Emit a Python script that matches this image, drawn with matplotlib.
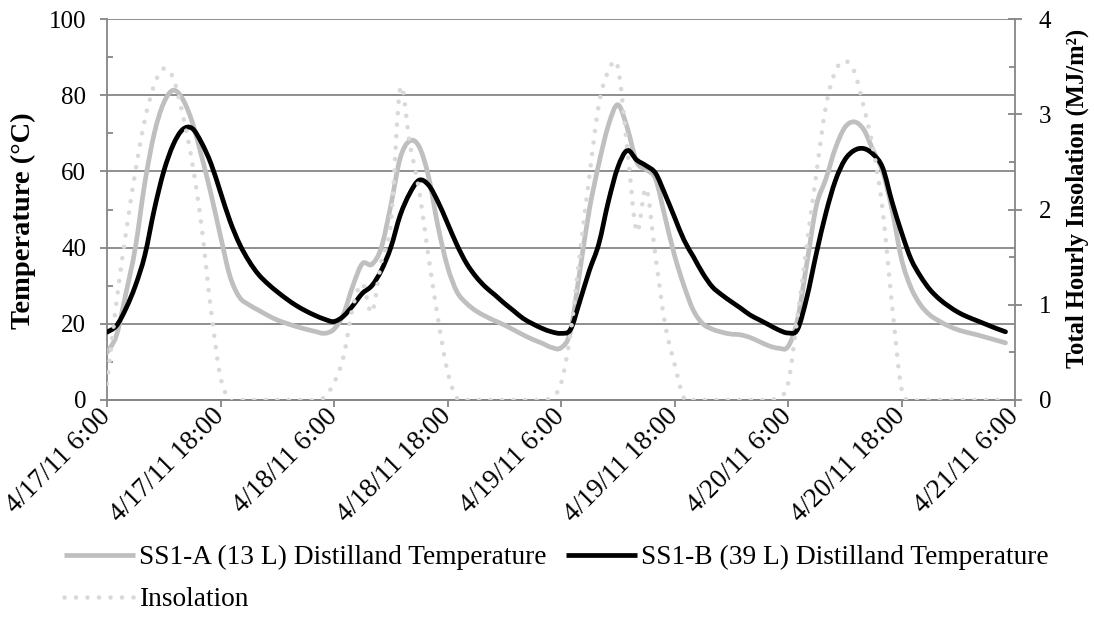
import matplotlib
matplotlib.use("Agg")
import matplotlib.pyplot as plt
import matplotlib.dates as mdates
import matplotlib.transforms as mtransforms
from matplotlib.ticker import MultipleLocator
from matplotlib.path import Path
from matplotlib.patches import PathPatch
from matplotlib.lines import Line2D
import numpy as np
import pandas as pd

# hourly readings, 4/17/11 6:00 .. 4/21/11 5:00
times = pd.date_range("2011-04-17 06:00", periods=96, freq="h")
tick_times = pd.date_range("2011-04-17 06:00", "2011-04-21 06:00", freq="12h")
tick_labels = ["4/17/11 6:00", "4/17/11 18:00", "4/18/11 6:00", "4/18/11 18:00",
               "4/19/11 6:00", "4/19/11 18:00", "4/20/11 6:00", "4/20/11 18:00",
               "4/21/11 6:00"]

# SS1-A (13 L) distilland temperature, C
temp_a = [12.5, 17, 28, 40, 57, 70, 78, 81.3, 79, 73, 64, 54, 43, 32.5, 27, 25, 23.6, 22.2, 21, 20.1, 19.3, 18.6, 18, 17.5,
          18.6, 22.5, 30, 35.8, 35.6, 40, 51, 63.5, 68, 66.5, 58.6, 45.5, 35, 28.4, 25.4, 23.4, 22, 20.8, 19.7, 18.4, 17.1, 15.9, 14.9, 13.8,
          13.7, 18, 34, 50, 62, 72, 77.5, 71.5, 62.5, 60.5, 58, 48, 38, 30, 23.5, 20, 18.6, 17.8, 17.3, 17.1, 16.4, 15.3, 14.2, 13.6,
          14, 21, 36, 51, 58, 66, 71.5, 73, 71, 65.5, 60, 50, 37, 29.5, 25, 22.3, 20.7, 19.4, 18.4, 17.7, 17.1, 16.4, 15.7, 15]

# SS1-B (39 L) distilland temperature, C
temp_b = [17.8, 19.5, 24, 30, 38, 50, 60, 67, 71, 71.3, 67.5, 62, 54.5, 47, 41, 36.5, 33, 30.5, 28.4, 26.5, 24.8, 23.4, 22.2, 21.2,
          20.6, 22, 24.8, 28, 30, 34, 40, 48.5, 54.2, 57.7, 56.4, 52, 46.4, 40.7, 35.9, 32.4, 29.7, 27.6, 25.4, 23.4, 21.4, 20, 18.8, 17.9,
          17.5, 18.5, 26, 34, 41, 52, 61, 65.5, 63, 61.5, 59.5, 54, 48, 42, 37.6, 33.2, 29.7, 27.6, 25.8, 24.1, 22.3, 21, 19.7, 18.4,
          17.6, 18.5, 27, 38.5, 49, 57.5, 63, 65.5, 66, 64.5, 61, 52, 44, 37, 32.5, 29, 26.5, 24.6, 23, 21.8, 20.8, 19.8, 18.8, 17.9]

# total hourly insolation, MJ/m2
insolation = [0.17, 1.03, 1.75, 2.4, 2.94, 3.31, 3.48, 3.38, 3.0, 2.5, 1.82, 0.94, 0.24, 0, 0, 0, 0, 0, 0, 0, 0, 0, 0, 0.03,
              0.18, 0.45, 0.98, 1.22, 0.92, 1.45, 1.85, 3.27, 2.7, 2.2, 1.5, 0.85, 0.3, 0.02, 0, 0, 0, 0, 0, 0, 0, 0, 0, 0.03,
              0.17, 0.7, 1.54, 2.35, 3.1, 3.45, 3.5, 2.65, 1.77, 2.22, 1.5, 0.8, 0.38, 0.02, 0, 0, 0, 0, 0, 0, 0, 0, 0, 0.03,
              0.17, 0.87, 1.64, 2.38, 3.08, 3.45, 3.56, 3.45, 3.08, 2.64, 2.0, 1.0, 0.12, 0, 0, 0, 0, 0, 0, 0, 0, 0, 0, 0]

plt.rcParams['font.family'] = ['Liberation Serif', 'DejaVu Serif']
axis_grey = "#868686"


def smooth_line(ax, x, y, **kw):
    # Excel style "smoothed line": cubic bezier through every data point
    x = np.asarray(mdates.date2num(x), dtype=float)
    y = np.asarray(y, dtype=float)
    px = np.concatenate([[x[0]], x, [x[-1]]])
    py = np.concatenate([[y[0]], y, [y[-1]]])
    verts = [(x[0], y[0])]
    codes = [Path.MOVETO]
    for i in range(1, len(x)):
        c1 = (px[i] + (px[i+1] - px[i-1]) / 6, py[i] + (py[i+1] - py[i-1]) / 6)
        c2 = (px[i+1] - (px[i+2] - px[i]) / 6, py[i+1] - (py[i+2] - py[i]) / 6)
        verts += [c1, c2, (px[i+1], py[i+1])]
        codes += [Path.CURVE4] * 3
    patch = PathPatch(Path(verts, codes), fill=False, transform=ax.transData, **kw)
    ax.add_patch(patch)
    return patch


fig = plt.figure(figsize=(10.94, 6.42), dpi=100)
ax = fig.add_axes([107/1094, 1-400/642, 908/1094, 381/642])
ax2 = ax.twinx()

style_a = dict(color="#bfbfbf", lw=3.4)
style_b = dict(color="black", lw=3.4)
style_i = dict(color="#d9d9d9", lw=3.3, linestyle=(0, (0.01, 2.5)))

smooth_line(ax, times, temp_a, edgecolor=style_a["color"], lw=style_a["lw"], capstyle="round", zorder=3)
smooth_line(ax, times, temp_b, edgecolor=style_b["color"], lw=style_b["lw"], capstyle="round", zorder=4)
smooth_line(ax2, times, insolation, edgecolor=style_i["color"], lw=style_i["lw"],
            linestyle=style_i["linestyle"], capstyle="round", zorder=3)

ax.set_xlim(tick_times[0], tick_times[-1])
ax.set_ylim(0, 100)
ax2.set_ylim(0, 4)
ax.yaxis.set_major_locator(MultipleLocator(20))
ax.yaxis.set_minor_locator(MultipleLocator(10))
ax2.yaxis.set_major_locator(MultipleLocator(1))
ax2.yaxis.set_minor_locator(MultipleLocator(0.5))
ax.grid(axis="y", which="major", color=axis_grey, lw=1.3)
ax.set_axisbelow(True)

ax.set_xticks(tick_times)
ax.set_xticklabels(tick_labels, rotation=45, ha="right", va="center", rotation_mode="anchor", fontsize=19.5)
offset = mtransforms.ScaledTranslation(0.17, -0.02, fig.dpi_scale_trans)
for t in ax.get_xticklabels():
    t.set_transform(t.get_transform() + offset)

for a in (ax, ax2):
    for s in a.spines.values():
        s.set_color(axis_grey)
        s.set_linewidth(1.3)
    a.spines["top"].set_visible(False)
ax.spines["right"].set_visible(False)
ax2.spines["left"].set_visible(False)

ax.tick_params(axis="x", direction="out", length=5, width=1.3, color=axis_grey, pad=4)
ax.tick_params(axis="y", which="major", direction="out", length=5, width=1.3, color=axis_grey, pad=10, labelsize=18)
ax.tick_params(axis="y", which="minor", direction="in", length=4, width=1.3, color=axis_grey)
ax2.tick_params(axis="y", which="major", direction="inout", length=10, width=1.3, color=axis_grey, pad=12, labelsize=18)
ax2.tick_params(axis="y", which="minor", direction="in", length=4, width=1.3, color=axis_grey)

ax.set_ylabel("Temperature (°C)", fontweight="bold", fontsize=20.5)
ax.yaxis.set_label_coords(-0.078, 0.47)
ax2.set_ylabel("Total Hourly Insolation (MJ/m²)", fontweight="bold", fontsize=17.7)
ax2.yaxis.set_label_coords(1.056, 0.528)

h_a = Line2D([], [], solid_capstyle="butt", **style_a)
h_b = Line2D([], [], solid_capstyle="butt", **style_b)
h_i = Line2D([], [], dash_capstyle="round", **style_i)
fig.legend([h_a, h_i, h_b],
           ["SS1-A (13 L) Distilland Temperature", "Insolation", "SS1-B (39 L) Distilland Temperature"],
           ncol=2, loc="upper left", bbox_to_anchor=(64/1094, 1-545/642),
           frameon=False, borderpad=0, borderaxespad=0, handlelength=2.6, handletextpad=0.15,
           columnspacing=0.7, labelspacing=0.62, fontsize=19.7)

fig.savefig("out.png", dpi=100)
